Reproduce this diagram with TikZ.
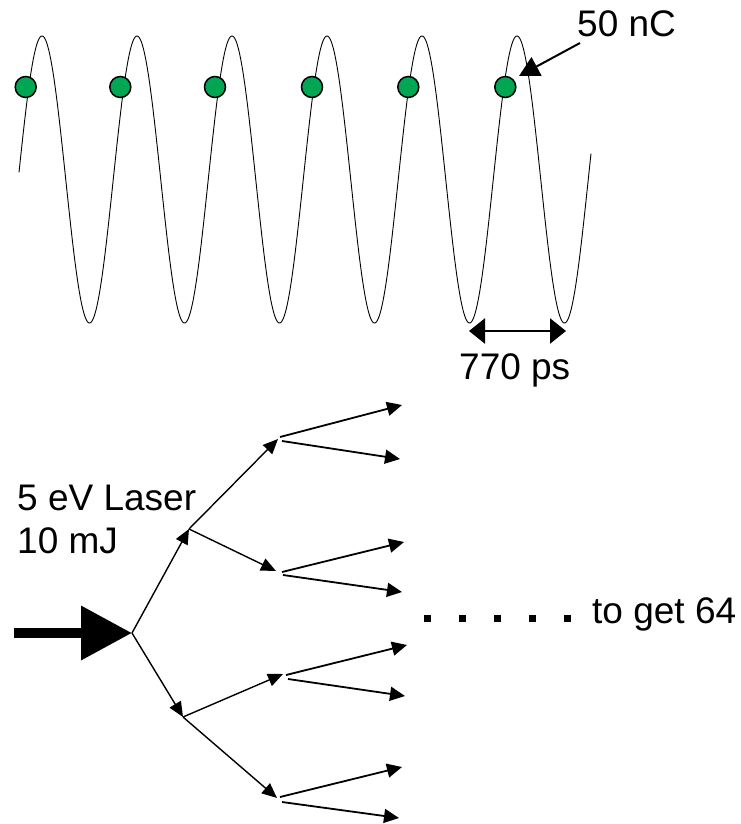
\documentclass[tikz,border=0pt]{standalone}
\usepackage{fontspec}
\setmainfont{Liberation Sans}
\usetikzlibrary{arrows.meta}
\definecolor{dotgreen}{RGB}{0,166,81}
\begin{document}
\begin{tikzpicture}[x=1pt,y=-1pt,
  lbl/.style={font=\fontsize{37}{43}\selectfont, inner sep=0pt, anchor=base west},
  bunch/.style={circle, draw=black, line width=1.5pt, fill=dotgreen, minimum size=21pt, inner sep=0pt},
  dotsq/.style={rectangle, fill=black, minimum size=7pt, inner sep=0pt},
  wave/.style={line width=0.9pt},
  branch/.style={line width=1.4pt, -{Triangle[length=15pt,width=13pt]}},
  leaf/.style={line width=1.8pt, -{Triangle[length=15pt,width=14pt]}},
  pointer/.style={line width=2pt, -{Triangle[length=20pt,width=21pt]}},
  span/.style={line width=2.5pt, {Triangle[length=16pt,width=25pt]}-{Triangle[length=16pt,width=25pt]}},
  bigarrow/.style={line width=10pt, -{Triangle[length=51pt,width=52pt]}}
]
\useasboundingbox (0,0) rectangle (740,824);

% RF wave
\draw[wave] plot[domain=19:591, samples=700, smooth] (\x, {179.5-143.5*cos(3.789474*(\x-42))});

% bunches
\node[bunch] (b1) at (25.7,87) {};
\node[bunch] (b2) at (120.3,87) {};
\node[bunch] (b3) at (215,87) {};
\node[bunch] (b4) at (312,87) {};
\node[bunch] (b5) at (408.3,87) {};
\node[bunch] (b6) at (505.3,87) {};

% charge label
\node[lbl] (q) at (577,37) {50 nC};
\coordinate (qs) at (580,43);
\coordinate (qt) at (519,76);
\draw[pointer] (qs) -- (qt);

% period
\coordinate (pa) at (469,331);
\coordinate (pb) at (566,331);
\draw[span] (pa) -- (pb);
\node[lbl] (per) at (459,379) {770 ps};

% laser label
\node[lbl] (l1) at (17,510) {5 eV Laser};
\node[lbl] (l2) at (17,553) {10 mJ};

% big input arrow
\coordinate (in) at (14,633);
\coordinate (root) at (132,633);
\draw[bigarrow] (in) -- (root);

% level 1
\coordinate (n1) at (189,529);
\coordinate (n2) at (183,717);
\draw[branch] (root) -- (n1);
\draw[branch] (root) -- (n2);

% level 2
\coordinate (m1) at (278,439);
\coordinate (m2) at (276,571);
\coordinate (m3) at (283,674);
\coordinate (m4) at (277,798);
\draw[branch] (n1) -- (m1);
\draw[branch] (n1) -- (m2);
\draw[branch] (n2) -- (m3);
\draw[branch] (n2) -- (m4);

% level 3 starts
\coordinate (s1a) at (280,437); \coordinate (s1b) at (282,441);
\coordinate (s2a) at (282,572); \coordinate (s2b) at (283,575);
\coordinate (s3a) at (286,675); \coordinate (s3b) at (288,679);
\coordinate (s4a) at (280,797); \coordinate (s4b) at (282,802);
% level 3 ends
\coordinate (e1a) at (402,405); \coordinate (e1b) at (400,459);
\coordinate (e2a) at (404,542); \coordinate (e2b) at (402,592);
\coordinate (e3a) at (407,645); \coordinate (e3b) at (405,696);
\coordinate (e4a) at (402,767); \coordinate (e4b) at (399,818);
\draw[leaf] (s1a) -- (e1a);
\draw[leaf] (s1b) -- (e1b);
\draw[leaf] (s2a) -- (e2a);
\draw[leaf] (s2b) -- (e2b);
\draw[leaf] (s3a) -- (e3a);
\draw[leaf] (s3b) -- (e3b);
\draw[leaf] (s4a) -- (e4a);
\draw[leaf] (s4b) -- (e4b);

% dots and label
\node[dotsq] (d1) at (427,618) {};
\node[dotsq] (d2) at (462,618) {};
\node[dotsq] (d3) at (497,618) {};
\node[dotsq] (d4) at (532,618) {};
\node[dotsq] (d5) at (567,618) {};
\node[lbl] (g) at (592,623) {to get 64};
\end{tikzpicture}
\end{document}
